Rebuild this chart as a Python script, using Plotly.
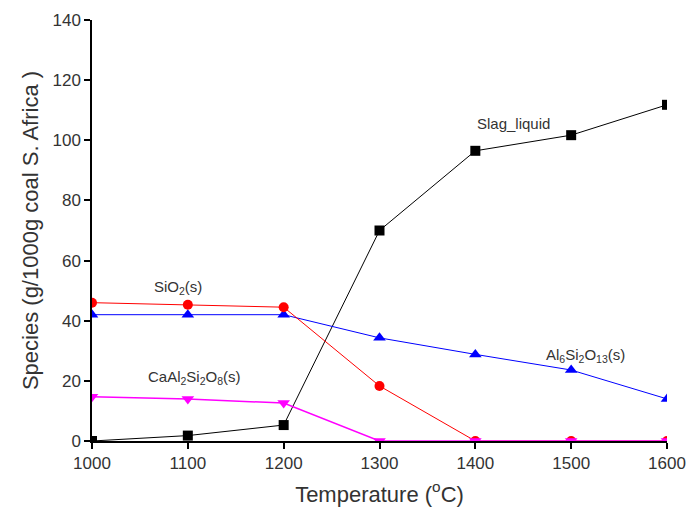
import plotly.graph_objects as go

temps = [1000, 1100, 1200, 1300, 1400, 1500, 1600]
slag_liquid = [0, 1.8, 5.3, 70, 96.5, 101.7, 111.8]
sio2 = [46, 45.3, 44.5, 18.3, 0, 0, 0]
al6si2o13 = [42, 42, 42, 34.3, 28.8, 23.6, 14]
caal2si2o8 = [14.7, 14, 12.6, 0, 0, 0, 0]

x_ticks = [1000, 1100, 1200, 1300, 1400, 1500, 1600]
y_ticks = [0, 20, 40, 60, 80, 100, 120, 140]

FONT = "Liberation Sans, Arial, sans-serif"
TXT = "#333333"

fig = go.Figure()
fig.add_trace(go.Scatter(x=temps, y=slag_liquid, mode="lines+markers",
                         line=dict(color="black", width=1),
                         marker=dict(symbol="square", size=10, color="black")))
fig.add_trace(go.Scatter(x=temps, y=al6si2o13, mode="lines+markers",
                         line=dict(color="blue", width=1),
                         marker=dict(symbol="triangle-up", size=11, color="blue")))
fig.add_trace(go.Scatter(x=temps, y=sio2, mode="lines+markers",
                         line=dict(color="red", width=1),
                         marker=dict(symbol="circle", size=10, color="red")))
fig.add_trace(go.Scatter(x=temps, y=caal2si2o8, mode="lines+markers",
                         line=dict(color="magenta", width=1.5),
                         marker=dict(symbol="triangle-down", size=11, color="magenta")))

annots = [
    dict(x=1090, y=51, text="SiO<sub>2</sub>(s)"),
    dict(x=1107, y=21, text="CaAl<sub>2</sub>Si<sub>2</sub>O<sub>8</sub>(s)"),
    dict(x=1440, y=105.5, text="Slag_liquid"),
    dict(x=1515, y=28.5, text="Al<sub>6</sub>Si<sub>2</sub>O<sub>13</sub>(s)"),
]
for a in annots:
    fig.add_annotation(x=a["x"], y=a["y"], text=a["text"], showarrow=False,
                       font=dict(family=FONT, size=15, color=TXT))

axis_common = dict(ticklen=6, tickwidth=1.5, showline=True, linecolor="black",
                   linewidth=1.5, showgrid=False, zeroline=False, tickcolor="black")

fig.update_layout(
    width=690, height=515,
    margin=dict(l=92, r=23, t=20, b=74, autoexpand=False),
    paper_bgcolor="white", plot_bgcolor="white",
    showlegend=False,
    font=dict(family=FONT, color=TXT),
    xaxis=dict(range=[1000, 1600], tickvals=x_ticks, ticks="outside",
               tickfont=dict(family=FONT, size=17, color=TXT),
               title=dict(text="Temperature (<sup>o</sup>C)",
                          font=dict(family=FONT, size=22, color=TXT), standoff=14),
               **axis_common),
    yaxis=dict(range=[0, 140], tickvals=y_ticks, ticks="outside",
               tickfont=dict(family=FONT, size=17, color=TXT),
               title=dict(text="Species (g/1000g coal S. Africa )",
                          font=dict(family=FONT, size=22, color=TXT), standoff=8),
               **axis_common),
    xaxis2=dict(range=[1000, 1600], tickvals=x_ticks, ticks="inside",
                showticklabels=False, overlaying="x", side="top", **axis_common),
    yaxis2=dict(range=[0, 140], tickvals=y_ticks, ticks="inside",
                showticklabels=False, overlaying="y", side="right", **axis_common),
)

fig.write_html("out.html")
